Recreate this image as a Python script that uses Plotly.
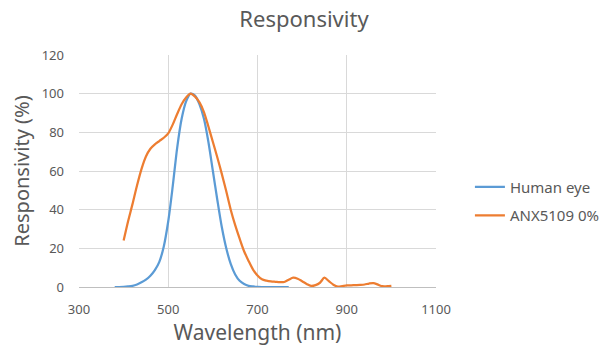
import plotly.graph_objects as go

eye_nm = [380, 390, 400, 410, 420, 430, 440, 450, 460, 470, 480, 490, 500, 510, 520, 530, 540, 550, 560,
          570, 580, 590, 600, 610, 620, 630, 640, 650, 660, 670, 680, 690, 700, 710, 720, 730, 740,
          750, 760, 770]
eye_val = [0, 0, 0.1, 0.3, 0.6, 1.3, 2.4, 3.8, 5.8, 8.7, 13, 21, 34, 52, 72, 87, 96, 100, 99,
           94.5, 87, 75, 60, 45, 31, 20, 12, 6.5, 3.2, 1.5, 0.6, 0.3, 0.1, 0, 0, 0, 0,
           0, 0, 0]

anx_nm = [400, 410, 420, 430, 440, 450, 460, 470, 480, 490, 500, 510, 520, 530, 540, 550, 560, 570,
          580, 590, 600, 610, 620, 630, 640, 650, 660, 670, 680, 690, 700, 710, 720, 730, 740, 750,
          760, 770, 780, 790, 800, 810, 820, 830, 840, 850, 860, 870, 880, 890, 900, 910, 920, 930,
          940, 950, 960, 970, 980, 990, 1000]
anx_val = [24, 34, 43, 52.5, 61, 67.5, 71.5, 73.8, 75.5, 77.2, 79.5, 84, 89.5, 94.5, 98, 100, 98.5, 95.5,
           90.5, 83, 75, 67, 58.5, 49.5, 40, 32, 25, 18.5, 13.5, 9, 6, 4, 3.3, 2.9, 2.7, 2.5,
           2.6, 3.8, 4.8, 4.3, 3, 1.6, 0.6, 1, 2.2, 4.8, 3, 1.2, 0.2, 0.5, 0.8, 0.9, 1, 1.1,
           1.3, 1.8, 2, 1.2, 0.4, 0.4, 0.6]

x_ticks = [300, 500, 700, 900, 1100]
y_ticks = [0, 20, 40, 60, 80, 100, 120]

FONT = "Noto Sans"
GRAY = "#595959"

fig = go.Figure()
fig.add_trace(go.Scatter(x=eye_nm, y=eye_val, name="Human eye", mode="lines", legendgroup="a",
                         line=dict(color="#5B9BD5", width=2.25, shape="spline", smoothing=0.8)))
fig.add_trace(go.Scatter(x=anx_nm, y=anx_val, name="ANX5109 0%", mode="lines", legendgroup="b",
                         line=dict(color="#ED7D31", width=2.25, shape="spline", smoothing=0.8)))

fig.update_layout(
    width=608, height=353,
    margin=dict(l=79, r=171.5, t=54.6, b=66.2, autoexpand=False),
    paper_bgcolor="white", plot_bgcolor="white",
    font=dict(family=FONT, color=GRAY, size=13),
    title=dict(text="Responsivity", x=0.5, xref="container", xanchor="center",
               y=0.945, yref="container", yanchor="middle",
               font=dict(size=22, color=GRAY, family=FONT)),
    xaxis=dict(range=[300, 1100], tickvals=x_ticks, showgrid=True, gridcolor="#d9d9d9", gridwidth=1,
               zeroline=False, showline=True, linecolor="#bfbfbf", linewidth=1, mirror=False,
               ticks="", tickfont=dict(size=13, color=GRAY), ticklabelstandoff=10,
               title=dict(text="Wavelength (nm)", font=dict(size=21, color=GRAY), standoff=8)),
    yaxis=dict(range=[0, 120], tickvals=y_ticks, showgrid=True, gridcolor="#d9d9d9", gridwidth=1,
               zeroline=False, showline=False, ticks="", ticklabelstandoff=14,
               tickfont=dict(size=13, color=GRAY),
               title=dict(text="Responsivity (%)", font=dict(size=20, color=GRAY), standoff=6)),
    legend=dict(x=1.095, xanchor="left", y=0.37, yanchor="middle", xref="paper", yref="paper",
                font=dict(size=15, color=GRAY), tracegroupgap=6, itemwidth=30,
                traceorder="grouped", bgcolor="rgba(0,0,0,0)"),
    showlegend=True,
)

fig.write_html("out.html")
